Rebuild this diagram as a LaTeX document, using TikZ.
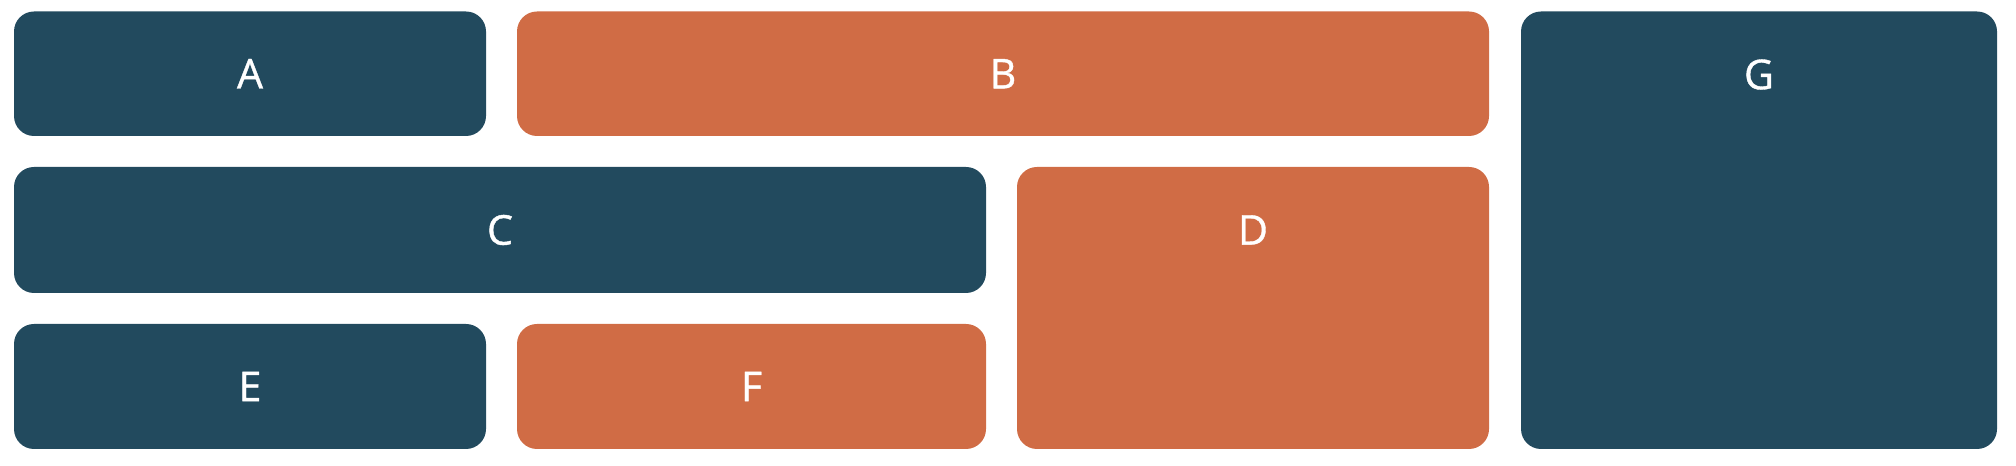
\documentclass[tikz,border=0pt]{standalone}
\usepackage{fontspec}
\setmainfont{Open Sans}
\newfontfamily\lblfont{Open Sans}[FakeBold=0.9]
\definecolor{slate}{HTML}{224A5E}
\definecolor{rust}{HTML}{D06C45}
\begin{document}
\begin{tikzpicture}[
    tile/.style={rectangle,rounded corners=0.2cm,inner sep=0pt,outer sep=0pt,
      anchor=north west,text=white,font=\lblfont\fontsize{11.7}{14}\selectfont},
    dark/.style={tile,fill=slate},
    warm/.style={tile,fill=rust},
    toplbl/.style={label={[text=white,font=\lblfont\fontsize{11.7}{14}\selectfont,
      anchor=center,yshift=-0.63cm]north:#1}}]
    \useasboundingbox (0,0) rectangle (20.16,-4.66);
    \node[dark,minimum width=4.72cm,minimum height=1.245cm] (A) at (0.14,-0.115) {A};
    \node[warm,minimum width=9.72cm,minimum height=1.245cm] (B) at (5.17,-0.115) {B};
    \node[dark,minimum width=4.76cm,minimum height=4.375cm,toplbl=G] (G) at (15.21,-0.115) {};
    \node[dark,minimum width=9.72cm,minimum height=1.26cm] (C) at (0.14,-1.67) {C};
    \node[warm,minimum width=4.72cm,minimum height=2.82cm,toplbl=D] (D) at (10.17,-1.67) {};
    \node[dark,minimum width=4.72cm,minimum height=1.25cm] (E) at (0.14,-3.24) {E};
    \node[warm,minimum width=4.69cm,minimum height=1.25cm] (F) at (5.17,-3.24) {F};
\end{tikzpicture}
\end{document}
